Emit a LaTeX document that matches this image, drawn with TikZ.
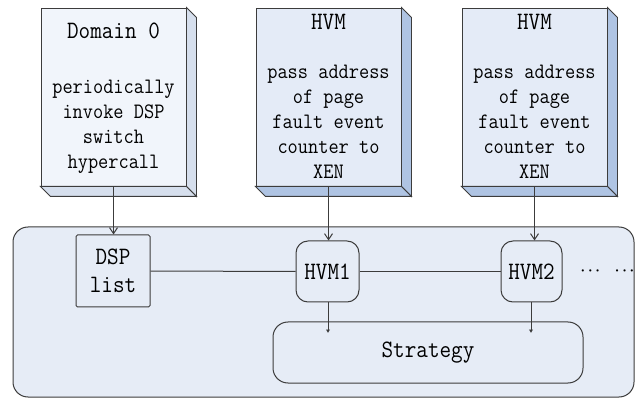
\documentclass[tikz,border=0pt]{standalone}
\usepackage{fontspec}
\usetikzlibrary{arrows.meta}
\newfontfamily\narrowmono{Latin Modern Mono}[FakeStretch=0.9]
\definecolor{frontA}{HTML}{F1F5FB}
\definecolor{sideA}{HTML}{D6DFED}
\definecolor{frontB}{HTML}{E4EBF7}
\definecolor{sideB}{HTML}{AFC4E3}
\definecolor{panelfill}{HTML}{E6ECF6}
\definecolor{ink}{HTML}{3C3C3C}
\tikzset{
  mono/.style={font=\narrowmono\fontsize{22}{25}\selectfont},
  bigmono/.style={font=\narrowmono\fontsize{25}{28}\selectfont},
  face/.style={draw=ink, line width=0.9pt, inner sep=0pt, minimum width=145pt, minimum height=178pt},
  side/.style={draw=ink, line width=0.9pt},
  inner/.style={draw=ink, line width=1pt, fill=panelfill, inner sep=0pt, bigmono},
  link/.style={draw=ink, line width=1pt},
  open arrow/.style={link, -{Straight Barb[length=6pt,width=8pt]}},
  small arrow/.style={link, -{Latex[length=3.5pt,width=4.5pt]}},
}
\newcommand{\boxsides}[2]{%
  \path[side, fill=#2] (#1.north east) -- ([shift={(10,10)}]#1.north east)
    -- ([shift={(10,10)}]#1.south east) -- (#1.south east) -- cycle;
  \path[side, fill=#2] (#1.south west) -- (#1.south east)
    -- ([shift={(10,10)}]#1.south east) -- ([shift={(10,10)}]#1.south west) -- cycle;
}
\begin{document}
\begin{tikzpicture}[x=1pt, y=-1pt]
\useasboundingbox (0,0) rectangle (635,398);

% hypervisor panel
\node[draw=ink, line width=1pt, fill=panelfill, rounded corners=15pt,
      minimum width=621pt, minimum height=170pt, inner sep=0pt] (panel) at (323.5,312) {};

% guest domains drawn as blocks
\node[face, fill=frontA] (dom) at (113.5,97) {};
\boxsides{dom}{sideA}
\node[face, fill=frontB] (hvA) at (328.5,97) {};
\boxsides{hvA}{sideB}
\node[face, fill=frontB] (hvB) at (534.5,97) {};
\boxsides{hvB}{sideB}

\node[bigmono] (domtitle) at (113.5,31) {Domain 0};
\node[mono, align=center] (domtext) at (113.5,127) {periodically\\invoke DSP\\switch\\hypercall};
\node[bigmono] (hvAtitle) at (328.5,22) {HVM};
\node[mono, align=center] (hvAtext) at (328.5,122) {pass address\\of page\\fault event\\counter to\\XEN};
\node[bigmono] (hvBtitle) at (534.5,22) {HVM};
\node[mono, align=center] (hvBtext) at (534.5,122) {pass address\\of page\\fault event\\counter to\\XEN};

% components inside the hypervisor
\node[inner, rounded corners=1.5pt, minimum width=74pt, minimum height=72pt, align=center] (dsp) at (113,271) {DSP\\list};
\node[inner, rounded corners=12pt, minimum width=63pt, minimum height=61pt] (hvm1) at (327.5,271.5) {HVM1};
\node[inner, rounded corners=12pt, minimum width=61pt, minimum height=61pt] (hvm2) at (531.5,271.5) {HVM2};
\node[inner, rounded corners=15pt, minimum width=310pt, minimum height=61pt] (strat) at (428,352.5) {Strategy};
\node[font=\fontsize{15}{15}\selectfont, inner sep=0pt] (more) at (607.5,271.5) {{\boldmath$\cdots$}\hspace{15pt}{\boldmath$\cdots$}};

\coordinate (s1) at (328,333);
\coordinate (s2) at (531,333);

% connectors
\draw[open arrow] (dom.south) -- (dom.south |- dsp.north);
\draw[open arrow] (hvA.south) -- (hvA.south |- hvm1.north);
\draw[open arrow] (hvB.south) -- (hvB.south |- hvm2.north);
\draw[link] (dsp.east) -- (hvm1.west);
\draw[link] (hvm1.east) -- (hvm2.west);
\draw[small arrow] (hvm1.south -| s1) -- (s1);
\draw[small arrow] (hvm2.south -| s2) -- (s2);
\end{tikzpicture}
\end{document}
